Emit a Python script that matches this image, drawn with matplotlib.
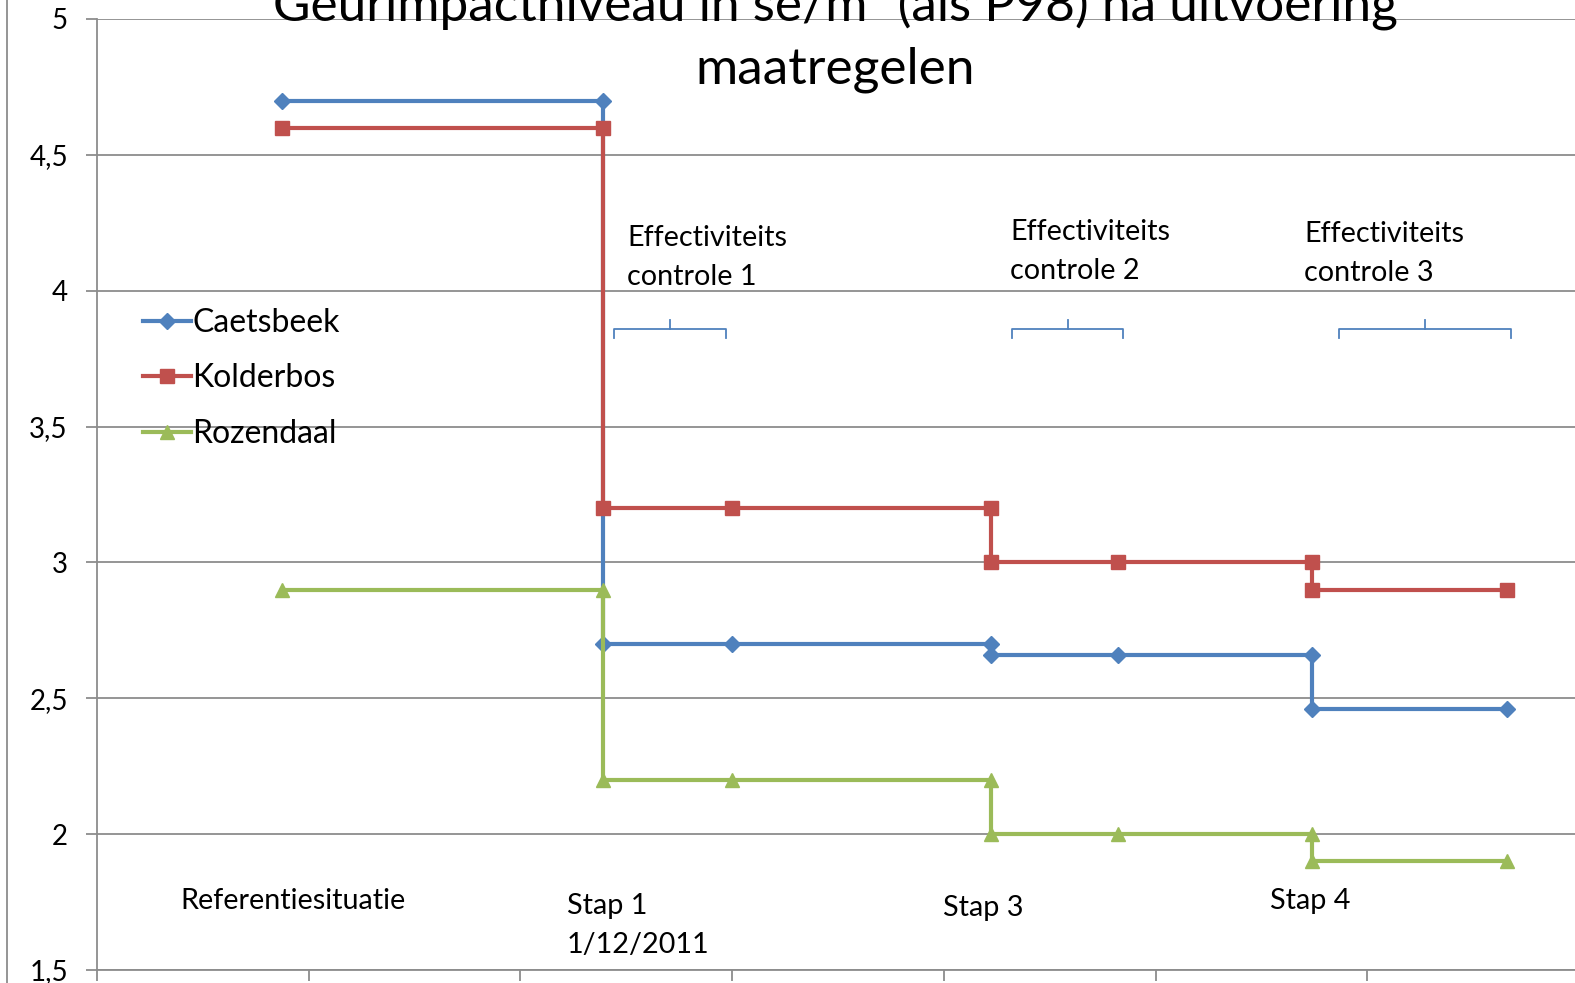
import matplotlib
matplotlib.use("Agg")
import matplotlib.pyplot as plt
from matplotlib.lines import Line2D
from matplotlib.ticker import FuncFormatter

plt.rcParams['font.family'] = ['Lato', 'DejaVu Sans']

# data
x_steps = [0.874, 2.389, 2.389, 3.0, 4.222, 4.222, 4.824, 5.738, 5.738, 6.659]
caetsbeek = [4.7, 4.7, 2.7, 2.7, 2.7, 2.66, 2.66, 2.66, 2.46, 2.46]
kolderbos = [4.6, 4.6, 3.2, 3.2, 3.2, 3.0, 3.0, 3.0, 2.9, 2.9]
rozendaal = [2.9, 2.9, 2.2, 2.2, 2.2, 2.0, 2.0, 2.0, 1.9, 1.9]
series_names = ["Caetsbeek", "Kolderbos", "Rozendaal"]
colors = ["#4F81BD", "#C0504D", "#9BBB59"]
markers = ["D", "s", "^"]
msizes = [8, 10, 10]

brace_spans = [(2.442, 2.971), (4.322, 4.847), (5.867, 6.680)]
brace_y = 3.859
brace_texts = ["Effectiviteits\ncontrole 1", "Effectiviteits\ncontrole 2", "Effectiviteits\ncontrole 3"]
brace_text_pos = [(2.503, 4.122), (4.313, 4.144), (5.701, 4.137)]

step_labels = ["Referentiesituatie", "Stap 1\n1/12/2011", "Stap 3", "Stap 4"]
step_label_pos = [(0.392, 1.754), (2.220, 1.664), (3.996, 1.728), (5.541, 1.754)]

W, H = 1575, 983
fig = plt.figure(figsize=(W / 100, H / 100), dpi=100)
ax = fig.add_axes([97 / W, 1 - 970 / H, 1482 / W, 951 / H])

for vals, name, c, m, ms in zip([caetsbeek, kolderbos, rozendaal], series_names, colors, markers, msizes):
    ax.plot(x_steps, vals, color=c, lw=3, marker=m, markersize=ms, label=name, zorder=3)

ax.set_xlim(0, 7)
ax.set_ylim(1.5, 5)
ax.set_yticks([1.5, 2, 2.5, 3, 3.5, 4, 4.5, 5])
ax.yaxis.set_major_formatter(FuncFormatter(lambda v, p: ("%g" % v).replace(".", ",")))
ax.set_xticks(range(0, 8))
ax.set_xticklabels([])
ax.grid(axis='y', color='#8c8c8c', lw=1.3)
ax.set_axisbelow(True)
for s in ['top', 'right']:
    ax.spines[s].set_visible(False)
for s in ['left', 'bottom']:
    ax.spines[s].set_color('#8c8c8c')
    ax.spines[s].set_linewidth(1.3)
ax.tick_params(axis='y', length=8, width=1.3, color='#8c8c8c', labelsize=20, pad=13)
ax.tick_params(axis='x', length=8, width=1.3, color='#8c8c8c')

# braces
for (x0, x1), txt, (tx, ty) in zip(brace_spans, brace_texts, brace_text_pos):
    xm = (x0 + x1) / 2
    ax.plot([x0, x0, x1, x1], [brace_y - 0.033, brace_y, brace_y, brace_y - 0.033], color='#4F81BD', lw=1.3)
    ax.plot([xm, xm], [brace_y, brace_y + 0.033], color='#4F81BD', lw=1.3)
    ax.text(tx, ty, txt, ha='left', va='center', fontsize=20.7, linespacing=1.65)

for txt, (tx, ty) in zip(step_labels, step_label_pos):
    ax.text(tx, ty, txt, ha='left', va='center', fontsize=20.7, linespacing=1.65)

leg = ax.legend(loc='upper left', bbox_to_anchor=(130 / W, 1 - 295 / H), bbox_transform=fig.transFigure,
                frameon=False, fontsize=23, handlelength=1.5, handletextpad=0.05, labelspacing=0.8,
                borderaxespad=0)

fig.text(835 / W, 1 - 36 / H, "Geurimpactniveau in se/m³ (als P98) na uitvoering\nmaatregelen",
         ha='center', va='center', fontsize=37, linespacing=1.45)

fig.add_artist(Line2D([7 / W, 7 / W], [0, 1], color='#8c8c8c', lw=1.3))

fig.savefig("out.png", dpi=100)
